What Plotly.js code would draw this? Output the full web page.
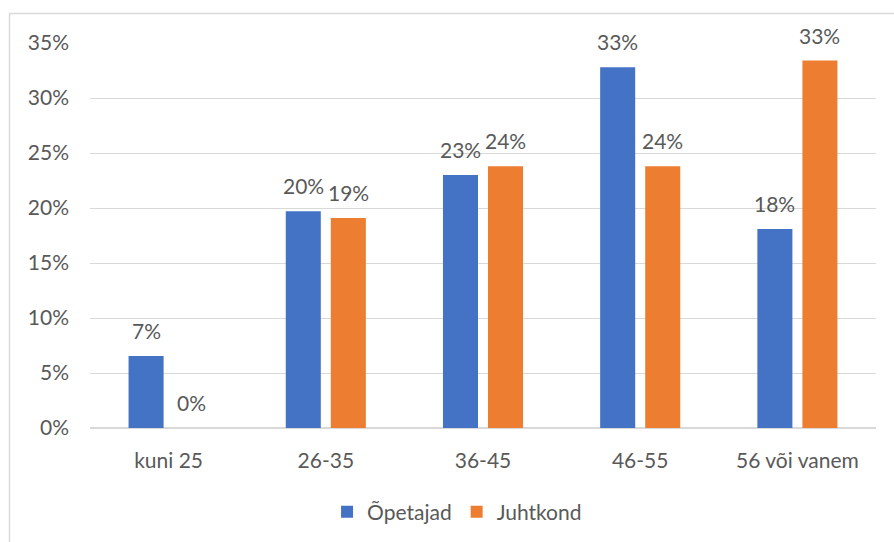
<!DOCTYPE html>
<html><head><meta charset="utf-8">
<script src="https://cdn.plot.ly/plotly-3.0.1.min.js"></script>
<style>html,body{margin:0;padding:0;background:#fff}#c{width:894px;height:542px}</style>
</head><body><div id="c"></div>
<script>
const categories = ["kuni 25", "26-35", "36-45", "46-55", "56 või vanem"];
const opetajad = [0.0655, 0.197, 0.230, 0.328, 0.181];
const juhtkond = [0.0, 0.191, 0.238, 0.238, 0.334];
const seriesNames = ["Õpetajad", "Juhtkond"];
const colors = ["#4472C4", "#ED7D31"];
const font = {family: "Lato, 'Open Sans', sans-serif", size: 21, color: "#595959"};

const traces = [opetajad, juhtkond].map((v, i) => ({
  type: "bar", x: categories, y: v, name: seriesNames[i],
  marker: {color: colors[i]}, hoverinfo: "skip"
}));

const annotations = [];
[opetajad, juhtkond].forEach((v, i) => {
  v.forEach((val, j) => {
    annotations.push({
      x: categories[j], y: val, xref: "x", yref: "y",
      text: Math.round(val * 100) + "%", showarrow: false,
      xshift: i === 0 ? -22.5 : 22.5, yanchor: "bottom", yshift: 11,
      font: font
    });
  });
});

const layout = {
  width: 894, height: 542,
  margin: {l: 90, r: 18, t: 43, b: 114},
  paper_bgcolor: "#fff", plot_bgcolor: "#fff",
  font: font,
  barmode: "group", bargap: 0.427, bargroupgap: 0.222,
  xaxis: {type: "category", showgrid: false, showline: false, ticks: "", zeroline: false,
          tickfont: font, ticklabelstandoff: 18},
  yaxis: {range: [0, 0.35], dtick: 0.05, tickformat: ".0%", showgrid: true, gridcolor: "#d9d9d9",
          gridwidth: 1, zeroline: true, zerolinecolor: "#d9d9d9", zerolinewidth: 1.5, showline: false,
          ticks: "", tickfont: font, ticklabelstandoff: 20},
  showlegend: true,
  legend: {orientation: "h", x: 0.467, xanchor: "center", yref: "container", y: 0.055, yanchor: "middle",
           font: font, traceorder: "normal", itemwidth: 30},
  annotations: annotations,
  shapes: [{type: "rect", xref: "paper", yref: "paper",
            x0: (9.5 - 90) / 786, x1: (900 - 90) / 786,
            y0: (428 - 560) / 385, y1: (428 - 13.5) / 385,
            line: {color: "#d9d9d9", width: 1.5}, fillcolor: "rgba(0,0,0,0)", layer: "below"}]
};
Plotly.newPlot("c", traces, layout, {displayModeBar: false, staticPlot: true});
</script></body></html>
